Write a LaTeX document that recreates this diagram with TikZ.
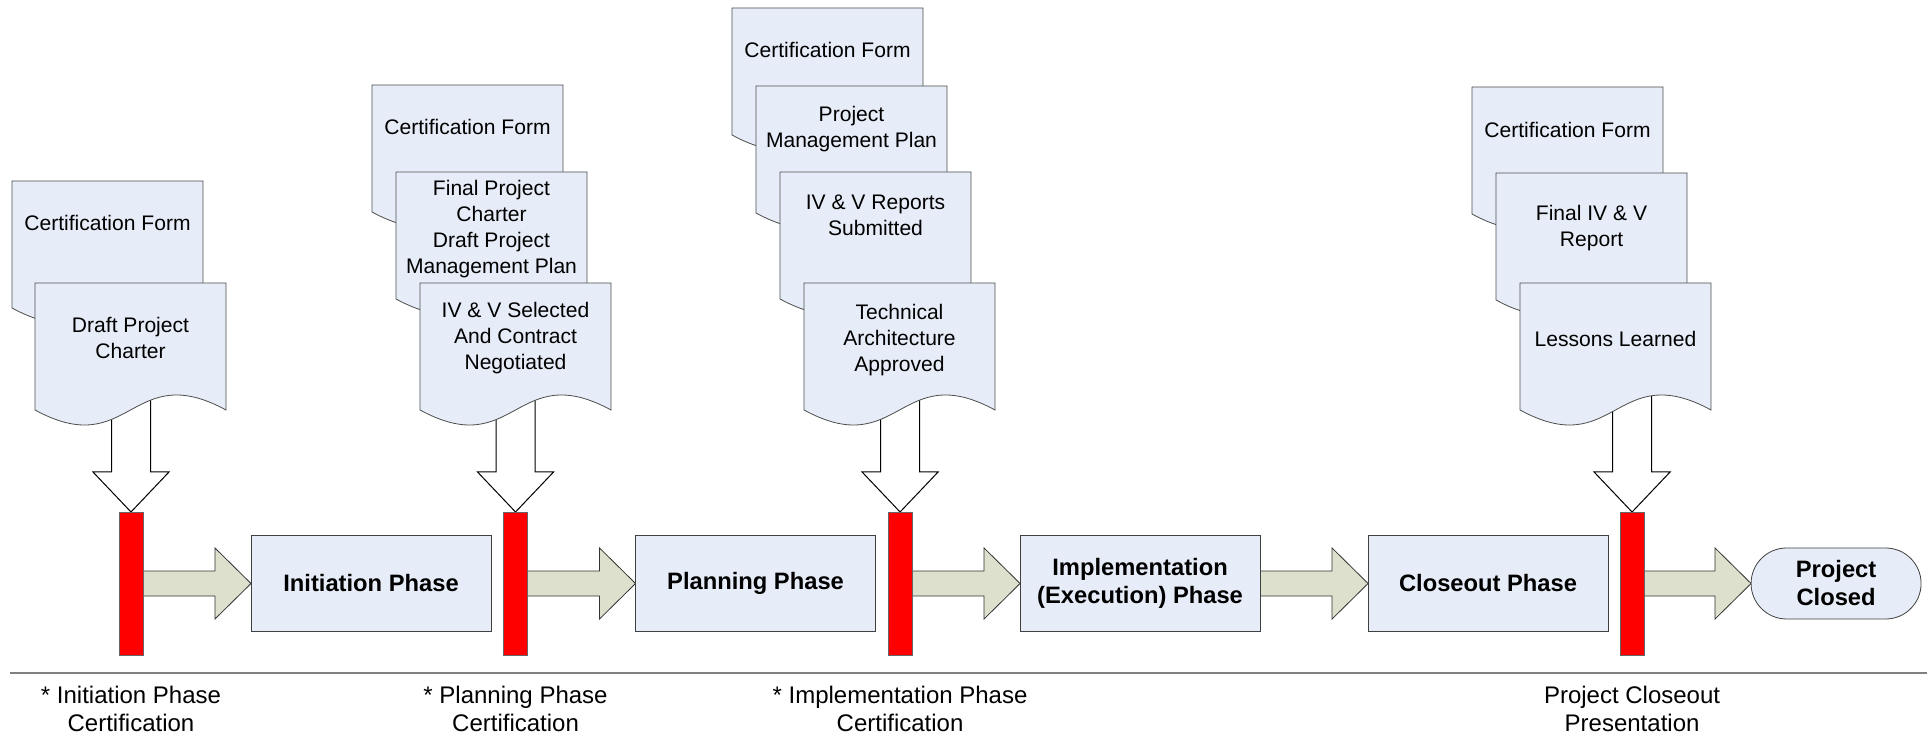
\documentclass[tikz,border=0pt]{standalone}
\usepackage{fontspec}
\setmainfont{Liberation Sans}
\usetikzlibrary{positioning,calc,backgrounds}

\definecolor{sheetblue}{RGB}{231,237,248}
\definecolor{flowgreen}{RGB}{221,224,204}
\definecolor{gatered}{RGB}{255,0,0}

\tikzset{
  phase/.style={draw=black!75, fill=sheetblue, line width=0.6pt, outer sep=0pt, minimum width=180pt, minimum height=72pt, align=center, font=\fontsize{17.8}{21}\selectfont\bfseries},
  gate/.style={draw=black!60, fill=gatered, line width=0.6pt, outer sep=0pt, minimum width=18pt, minimum height=107.25pt, inner sep=0pt},
  sheet/.style={draw=black!70, fill=sheetblue, line width=0.6pt},
  sheettext/.style={align=center, font=\fontsize{15.8}{19.5}\selectfont, inner sep=0pt},
  flow/.style={draw=black!80, fill=flowgreen, line width=0.6pt},
  feed/.style={draw=black, fill=white, line width=0.75pt},
  gatelabel/.style={align=center, font=\fontsize{18}{21}\selectfont, inner sep=0pt},
}

% document sheet with wavy bottom: name, top left corner, text offset, text
\newcommand{\docsheet}[4]{%
  \coordinate (#1) at (#2);
  \filldraw[sheet] (#1) -- ($(#1)+(191,0)$) -- ($(#1)+(191,127)$)
    .. controls ($(#1)+(95.5,75)$) and ($(#1)+(95.5,179)$) .. ($(#1)+(0,127)$) -- cycle;
  \node[sheettext] (#1t) at ($(#1)+(95.5,#3)$) {#4};}

% block arrow between two nodes
\newcommand{\flowarrow}[2]{%
  \filldraw[flow] ($(#1.east)+(0,-12.5)$) -- ($(#2.west)+(-36,-12.5)$) -- ($(#2.west)+(-36,-35.5)$)
    -- (#2.west) -- ($(#2.west)+(-36,35.5)$) -- ($(#2.west)+(-36,12.5)$) -- ($(#1.east)+(0,12.5)$);}

% hollow arrow from a sheet down to a gate
\newcommand{\feedarrow}[2]{%
  \filldraw[feed] ($(#2.north |- #1)+(-19.5,0)$) -- ($(#2.north)+(-19.5,-40)$) -- ($(#2.north)+(-38,-40)$)
    -- (#2.north) -- ($(#2.north)+(38,-40)$) -- ($(#2.north)+(19.5,-40)$) -- ($(#2.north |- #1)+(19.5,0)$);}

\begin{document}
\begin{tikzpicture}[x=0.75pt, y=-0.75pt]
  \useasboundingbox (0,0) rectangle (1931,737);

  \node[gate] (g1) at (131,583.5) {};
  \node[phase, right=81pt of g1] (p1) {Initiation Phase};
  \node[gate, right=9.4pt of p1] (g2) {};
  \node[phase, right=81pt of g2] (p2) {Planning Phase};
  \node[gate, right=9.4pt of p2] (g3) {};
  \node[phase, right=81pt of g3] (p3) {Implementation\\(Execution) Phase};
  \node[phase, right=81pt of p3] (p4) {Closeout Phase};
  \node[gate, right=9pt of p4] (g4) {};
  \node[phase, rounded corners=26.6pt, minimum width=127.5pt, minimum height=53.25pt, right=80.25pt of g4] (closed) {Project\\Closed};

  % sheets, back to front
  \docsheet{c11}{12,181}{42}{Certification Form}
  \docsheet{c12}{35,283}{55}{Draft Project\\Charter}

  \docsheet{c21}{372,85}{42}{Certification Form}
  \docsheet{c22}{396,172}{57}{Final Project\\Charter\\Draft Project\\Management Plan}
  \docsheet{c23}{420,283}{55}{IV \& V Selected\\And Contract\\Negotiated}

  \docsheet{c31}{732,8}{42}{Certification Form}
  \docsheet{c32}{756,86}{43}{Project\\Management Plan}
  \docsheet{c33}{780,172}{43}{IV \& V Reports\\Submitted}
  \docsheet{c34}{804,283}{57}{Technical\\Architecture\\Approved}

  \docsheet{c41}{1472,87}{43}{Certification Form}
  \docsheet{c42}{1496,173}{55}{Final IV \& V\\Report}
  \docsheet{c43}{1520,283}{56}{Lessons Learned}

  \begin{scope}[on background layer]
    \flowarrow{g1}{p1}
    \flowarrow{g2}{p2}
    \flowarrow{g3}{p3}
    \flowarrow{p3}{p4}
    \flowarrow{g4}{closed}
    \feedarrow{c12}{g1}
    \feedarrow{c23}{g2}
    \feedarrow{c34}{g3}
    \feedarrow{c43}{g4}
  \end{scope}

  \draw[black!50, line width=1.5pt] (10,673) -- (1927,673);

  \node[gatelabel] (l1) at ($(g1.south)+(0,54)$) {* Initiation Phase\\Certification};
  \node[gatelabel] (l2) at ($(g2.south)+(0,54)$) {* Planning Phase\\Certification};
  \node[gatelabel] (l3) at ($(g3.south)+(0,54)$) {* Implementation Phase\\Certification};
  \node[gatelabel] (l4) at ($(g4.south)+(0,54)$) {Project Closeout\\Presentation};
\end{tikzpicture}
\end{document}
